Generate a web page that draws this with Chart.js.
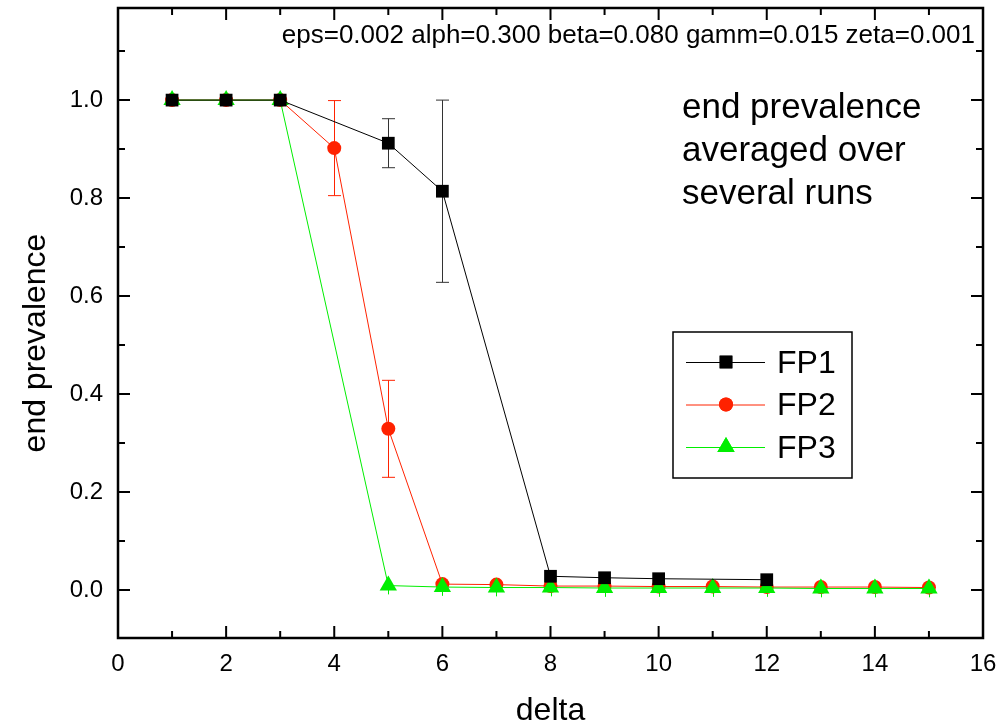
<!DOCTYPE html>
<html>
<head>
<meta charset="utf-8">
<script src="https://cdn.jsdelivr.net/npm/chart.js@4/dist/chart.umd.min.js"></script>
<style>
  html, body { margin: 0; padding: 0; background: #fff; }
  #wrap { width: 1003px; height: 726px; }
</style>
</head>
<body>
<div id="wrap"><canvas id="prevChart" width="1003" height="726"></canvas></div>
<script>
// values
const xFP1 = [1, 2, 3, 5, 6, 8, 9, 10, 12];
const yFP1 = [1.0, 1.0, 1.0, 0.912, 0.814, 0.028, 0.025, 0.023, 0.021];
const eFP1 = [0, 0, 0, 0.05, 0.186, 0, 0, 0, 0];

const xFP2 = [1, 2, 3, 4, 5, 6, 7, 8, 9, 10, 11, 12, 13, 14, 15];
const yFP2 = [1.0, 1.0, 1.0, 0.902, 0.329, 0.012, 0.011, 0.008, 0.008, 0.007, 0.007, 0.006, 0.006, 0.006, 0.005];
const eFP2 = [0, 0, 0, 0.097, 0.099, 0, 0, 0, 0, 0, 0, 0, 0, 0, 0];

const xFP3 = [1, 2, 3, 5, 6, 7, 8, 9, 10, 11, 12, 13, 14, 15];
const yFP3 = [1.0, 1.0, 1.0, 0.009, 0.006, 0.005, 0.005, 0.004, 0.004, 0.004, 0.004, 0.003, 0.003, 0.003];
const eFP3 = [0, 0, 0, 0.018, 0.018, 0.018, 0.018, 0.018, 0.018, 0.018, 0.018, 0.018, 0.018, 0.018];

const xTicks = [0, 1, 2, 3, 4, 5, 6, 7, 8, 9, 10, 11, 12, 13, 14, 15, 16];
const xTickLabels = [0, 2, 4, 6, 8, 10, 12, 14, 16];
const yTicks = [0, 0.1, 0.2, 0.3, 0.4, 0.5, 0.6, 0.7, 0.8, 0.9, 1.0, 1.1];
const yTickLabels = [0, 0.2, 0.4, 0.6, 0.8, 1.0];

const paramText = "eps=0.002 alph=0.300 beta=0.080 gamm=0.015 zeta=0.001";
const noteLines = ["end prevalence", "averaged over", "several runs"];

const FONT = "'Liberation Sans', Arial, sans-serif";
Chart.defaults.font.family = FONT;
Chart.defaults.color = "#000";

function toPoints(xs, ys) {
  return xs.map((x, i) => ({ x: x, y: ys[i] }));
}

const errors = [eFP1, eFP2, eFP3];
const isLabelled = (list, v) => list.some((t) => Math.abs(t - v) < 1e-6);

const datasets = [
  {
    label: "FP1",
    data: toPoints(xFP1, yFP1),
    borderColor: "#000000",
    backgroundColor: "#000000",
    pointStyle: "rect",
    pointRadius: 9,
    order: 0,
  },
  {
    label: "FP2",
    data: toPoints(xFP2, yFP2),
    borderColor: "#ff2200",
    backgroundColor: "#ff2200",
    pointStyle: "circle",
    pointRadius: 7,
    order: 2,
  },
  {
    label: "FP3",
    data: toPoints(xFP3, yFP3),
    borderColor: "#00ee00",
    backgroundColor: "#00ee00",
    pointStyle: "triangle",
    pointRadius: 10,
    order: 1,
  },
].map((d) => ({
  ...d,
  showLine: true,
  borderWidth: 1,
  pointBorderWidth: 0,
  pointHoverRadius: d.pointRadius,
}));

// error bars, frame, inward ticks, text notes and the boxed legend
const decorPlugin = {
  id: "decor",
  beforeDatasetsDraw(chart) {
    const { ctx } = chart;
    const xs = chart.scales.x;
    const ys = chart.scales.y;
    ctx.save();
    ctx.lineWidth = 1;
    chart.data.datasets.forEach((ds, i) => {
      ctx.strokeStyle = i === 0 ? "#333" : ds.borderColor;
      ds.data.forEach((p, j) => {
        const e = errors[i][j];
        if (!e) return;
        const px = Math.round(xs.getPixelForValue(p.x)) + 0.5;
        const top = ys.getPixelForValue(p.y + e);
        const bot = ys.getPixelForValue(p.y - e);
        const cap = i === 2 ? 0 : 6.5;
        ctx.beginPath();
        ctx.moveTo(px, top);
        ctx.lineTo(px, bot);
        if (cap) {
          ctx.moveTo(px - cap, top);
          ctx.lineTo(px + cap, top);
          ctx.moveTo(px - cap, bot);
          ctx.lineTo(px + cap, bot);
        }
        ctx.stroke();
      });
    });
    ctx.restore();
  },
  afterDraw(chart) {
    const { ctx, chartArea: a } = chart;
    const xs = chart.scales.x;
    const ys = chart.scales.y;
    ctx.save();

    // frame
    ctx.strokeStyle = "#000";
    ctx.lineWidth = 2.5;
    ctx.strokeRect(a.left, a.top, a.right - a.left, a.bottom - a.top);

    // inward ticks on all four sides
    ctx.lineWidth = 2;
    ctx.beginPath();
    xTicks.forEach((v) => {
      const px = xs.getPixelForValue(v);
      const len = isLabelled(xTickLabels, v) ? 12 : 7;
      ctx.moveTo(px, a.bottom);
      ctx.lineTo(px, a.bottom - len);
      ctx.moveTo(px, a.top);
      ctx.lineTo(px, a.top + len);
    });
    yTicks.forEach((v) => {
      const py = ys.getPixelForValue(v);
      const len = isLabelled(yTickLabels, v) ? 12 : 7;
      ctx.moveTo(a.left, py);
      ctx.lineTo(a.left + len, py);
      ctx.moveTo(a.right, py);
      ctx.lineTo(a.right - len, py);
    });
    ctx.stroke();

    ctx.fillStyle = "#000";

    // parameter line
    ctx.font = "26px " + FONT;
    ctx.textAlign = "right";
    ctx.textBaseline = "alphabetic";
    ctx.fillText(paramText, 975, 43);

    // note
    ctx.font = "35px " + FONT;
    ctx.textAlign = "left";
    noteLines.forEach((t, i) => ctx.fillText(t, 682, 118 + i * 43));

    // axis titles
    ctx.font = "32px " + FONT;
    ctx.textAlign = "center";
    ctx.fillText("delta", (a.left + a.right) / 2, 720);
    ctx.save();
    ctx.translate(45, 343);
    ctx.rotate(-Math.PI / 2);
    ctx.fillText("end prevalence", 0, 0);
    ctx.restore();

    // legend box
    ctx.lineWidth = 1.5;
    ctx.strokeRect(673, 332, 179, 146);
    ctx.font = "32px " + FONT;
    ctx.textAlign = "left";
    ctx.textBaseline = "middle";
    chart.data.datasets.forEach((ds, i) => {
      const y = 362 + i * 42.5;
      ctx.strokeStyle = ds.borderColor;
      ctx.lineWidth = 1;
      ctx.beginPath();
      ctx.moveTo(686, y + 0.5);
      ctx.lineTo(765, y + 0.5);
      ctx.stroke();
      ctx.fillStyle = ds.backgroundColor;
      Chart.helpers.drawPoint(ctx, {
        pointStyle: ds.pointStyle,
        radius: ds.pointRadius,
        rotation: 0,
        borderWidth: 0,
      }, 726, y);
      ctx.fill();
      ctx.fillStyle = "#000";
      ctx.fillText(ds.label, 777, y + 2);
    });

    ctx.restore();
  },
};

new Chart(document.getElementById("prevChart").getContext("2d"), {
  type: "scatter",
  data: { datasets: datasets },
  options: {
    responsive: false,
    animation: false,
    layout: { autoPadding: false, padding: { top: 8, right: 20, left: 0, bottom: 0 } },
    plugins: {
      legend: { display: false },
      tooltip: { enabled: false },
    },
    scales: {
      x: {
        type: "linear",
        min: 0,
        max: 16,
        grid: { display: false, drawTicks: false },
        border: { display: false },
        ticks: {
          stepSize: 1,
          padding: 12,
          font: { size: 24 },
          callback: (v) => (isLabelled(xTickLabels, v) ? String(Math.round(v)) : null),
        },
        afterFit: (s) => {
          s.height = 88;
          s.paddingLeft = 0;
          s.paddingRight = 0;
        },
      },
      y: {
        type: "linear",
        min: -0.098,
        max: 1.188,
        grid: { display: false, drawTicks: false },
        border: { display: false },
        ticks: {
          stepSize: 0.1,
          padding: 15,
          font: { size: 24 },
          callback: (v) => (isLabelled(yTickLabels, v) ? v.toFixed(1) : null),
        },
        afterFit: (s) => {
          s.width = 118;
          s.paddingTop = 0;
          s.paddingBottom = 0;
        },
      },
    },
  },
  plugins: [decorPlugin],
});
</script>
</body>
</html>
